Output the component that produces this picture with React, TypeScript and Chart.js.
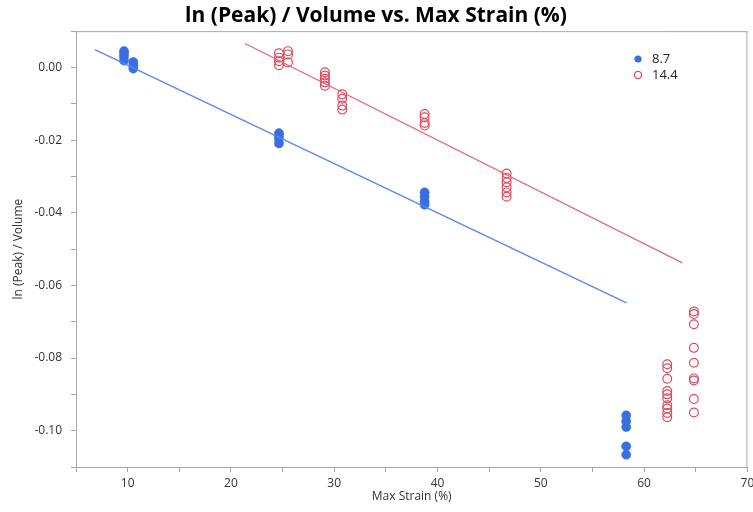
import React, { useEffect, useRef } from "react";
import { Chart, registerables } from "chart.js";

Chart.register(...registerables);

const TITLE = "ln (Peak) / Volume vs. Max Strain (%)";
const X_TITLE = "Max Strain (%)";
const Y_TITLE = "ln (Peak) / Volume";

const SERIES_A_LABEL = "8.7";
const SERIES_B_LABEL = "14.4";

// Series 8.7 (filled blue)
const seriesAX = [9.65, 9.65, 9.65, 9.65, 10.55, 10.55, 10.55, 24.65, 24.65, 24.65, 24.65, 38.75, 38.75, 38.75, 38.75, 58.27, 58.27, 58.27, 58.27, 58.27];
const seriesAY = [0.0045, 0.0038, 0.0030, 0.0019, 0.0015, 0.0006, -0.0003, -0.0181, -0.0188, -0.0196, -0.0209, -0.0344, -0.0356, -0.0369, -0.0378, -0.0958, -0.0974, -0.0990, -0.1043, -0.1066];

// Series 14.4 (open red)
const seriesBX = [24.65, 24.65, 24.65, 24.65, 25.52, 25.52, 25.52, 29.1, 29.1, 29.1, 29.1, 29.1, 30.78, 30.78, 30.78, 30.78, 38.75, 38.75, 38.75, 38.75, 46.69, 46.69, 46.69, 46.69, 46.69, 46.69, 62.24, 62.24, 62.24, 62.24, 62.24, 62.24, 62.24, 62.24, 62.24, 62.24, 64.82, 64.82, 64.82, 64.82, 64.82, 64.82, 64.82, 64.82, 64.82];
const seriesBY = [0.0039, 0.0027, 0.0017, 0.0006, 0.0045, 0.0036, 0.0014, -0.0013, -0.0022, -0.0031, -0.0041, -0.0050, -0.0074, -0.0086, -0.0105, -0.0116, -0.0128, -0.0137, -0.0153, -0.0160, -0.0292, -0.0304, -0.0316, -0.0330, -0.0344, -0.0356, -0.0817, -0.0828, -0.0857, -0.0891, -0.0900, -0.0911, -0.0930, -0.0939, -0.0951, -0.0963, -0.0672, -0.0679, -0.0707, -0.0772, -0.0813, -0.0856, -0.0862, -0.0913, -0.0950];

// Fit line endpoints
const fitAX = [6.83, 58.3];
const fitAY = [0.0049, -0.0648];
const fitBX = [21.35, 63.7];
const fitBY = [0.0066, -0.0538];

const X_MIN = 5;
const X_MAX = 70;
const Y_MIN = -0.11;
const Y_MAX = 0.01;

const BLUE = "#3a6ee0";
const BLUE_LINE = "#5a86ee";
const RED = "#dd4a5e";
const RED_LINE = "#e3697a";
const AXIS = "#a6a6a6";
const FONT = "'Open Sans', 'Noto Sans', sans-serif";

const zip = (xs: number[], ys: number[]) => xs.map((x, i) => ({ x, y: ys[i] }));

const framePlugin = {
  id: "frame",
  afterDraw(chart: any) {
    const { ctx, chartArea } = chart;
    ctx.save();
    ctx.strokeStyle = AXIS;
    ctx.lineWidth = 1;
    ctx.beginPath();
    ctx.moveTo(chartArea.left, chartArea.top + 0.5);
    ctx.lineTo(chartArea.right, chartArea.top + 0.5);
    ctx.moveTo(chartArea.right - 0.5, chartArea.top);
    ctx.lineTo(chartArea.right - 0.5, chartArea.bottom);
    ctx.stroke();
    ctx.restore();
  },
};

const legendPlugin = {
  id: "customLegend",
  afterDraw(chart: any) {
    const { ctx } = chart;
    const items = chart.data.datasets.filter((d: any) => d.showInLegend);
    ctx.save();
    ctx.font = `13px ${FONT}`;
    ctx.textBaseline = "middle";
    ctx.textAlign = "left";
    items.forEach((d: any, i: number) => {
      const cx = 638;
      const cy = 59 + i * 16;
      ctx.beginPath();
      ctx.arc(cx, cy, 3.6, 0, Math.PI * 2);
      if (d.legendFilled) {
        ctx.fillStyle = d.pointBorderColor;
        ctx.fill();
      } else {
        ctx.strokeStyle = d.pointBorderColor;
        ctx.lineWidth = 1.3;
        ctx.stroke();
      }
      ctx.fillStyle = "#222";
      ctx.fillText(d.label, 652, cy + 0.5);
    });
    ctx.restore();
  },
};

export default function App() {
  const ref = useRef<HTMLCanvasElement | null>(null);
  useEffect(() => {
    if (!ref.current) return;
    const chart = new Chart(ref.current, {
      type: "scatter",
      data: {
        datasets: [
          {
            label: SERIES_A_LABEL + " fit",
            type: "line",
            data: zip(fitAX, fitAY),
            borderColor: BLUE_LINE,
            borderWidth: 1.3,
            pointRadius: 0,
            showLine: true,
            fill: false,
          } as any,
          {
            label: SERIES_B_LABEL + " fit",
            type: "line",
            data: zip(fitBX, fitBY),
            borderColor: RED_LINE,
            borderWidth: 1.3,
            pointRadius: 0,
            showLine: true,
            fill: false,
          } as any,
          {
            label: SERIES_A_LABEL,
            data: zip(seriesAX, seriesAY),
            pointRadius: 4.6,
            pointBackgroundColor: BLUE,
            pointBorderColor: BLUE,
            pointBorderWidth: 0.5,
            showInLegend: true,
            legendFilled: true,
          } as any,
          {
            label: SERIES_B_LABEL,
            data: zip(seriesBX, seriesBY),
            pointRadius: 4.4,
            pointBackgroundColor: "rgba(0,0,0,0)",
            pointBorderColor: RED,
            pointBorderWidth: 1.2,
            showInLegend: true,
            legendFilled: false,
          } as any,
        ],
      },
      options: {
        responsive: true,
        maintainAspectRatio: false,
        animation: false,
        layout: { padding: { left: 0, right: 1, top: 0, bottom: 0 } },
        plugins: {
          legend: { display: false },
          tooltip: { enabled: false },
          title: {
            display: true,
            text: TITLE,
            color: "#000",
            font: { family: FONT, size: 21, weight: "bold", lineHeight: 1.15 },
            padding: { top: 4, bottom: 3 },
          },
        },
        scales: {
          x: {
            type: "linear",
            min: X_MIN,
            max: X_MAX,
            afterFit: (s: any) => {
              s.height = 45;
              s.paddingRight = 0;
              s.paddingLeft = 0;
            },
            border: { display: true, color: AXIS, width: 1 },
            grid: { display: true, drawOnChartArea: false, drawTicks: true, tickLength: 5, color: AXIS },
            ticks: {
              stepSize: 5,
              autoSkip: false,
              maxRotation: 0,
              padding: 4,
              color: "#333",
              font: { family: FONT, size: 12 },
              callback: (v: any) => (Math.round(Number(v)) % 10 === 0 ? String(Math.round(Number(v))) : ""),
            },
            title: {
              display: true,
              text: X_TITLE,
              color: "#333",
              font: { family: FONT, size: 12 },
              padding: { top: 0, bottom: 8 },
            },
          },
          y: {
            type: "linear",
            min: Y_MIN,
            max: Y_MAX,
            afterFit: (s: any) => {
              s.width = 76;
              s.paddingTop = 0;
              s.paddingBottom = 0;
            },
            border: { display: true, color: AXIS, width: 1 },
            grid: { display: true, drawOnChartArea: false, drawTicks: true, tickLength: 5, color: AXIS },
            ticks: {
              stepSize: 0.01,
              autoSkip: false,
              padding: 9,
              color: "#333",
              font: { family: FONT, size: 12 },
              callback: (v: any) => {
                const m = Math.round(Number(v) * 1000);
                if (m % 20 !== 0) return "";
                return (m / 1000).toFixed(2);
              },
            },
            title: {
              display: true,
              text: Y_TITLE,
              color: "#333",
              font: { family: FONT, size: 12 },
              padding: { top: 11, bottom: 0 },
            },
          },
        },
      },
      plugins: [framePlugin, legendPlugin],
    });
    return () => chart.destroy();
  }, []);

  return (
    <div style={{ position: "fixed", left: 0, top: 0, width: 753, height: 512, background: "#fff" }}>
      <canvas ref={ref} />
    </div>
  );
}
